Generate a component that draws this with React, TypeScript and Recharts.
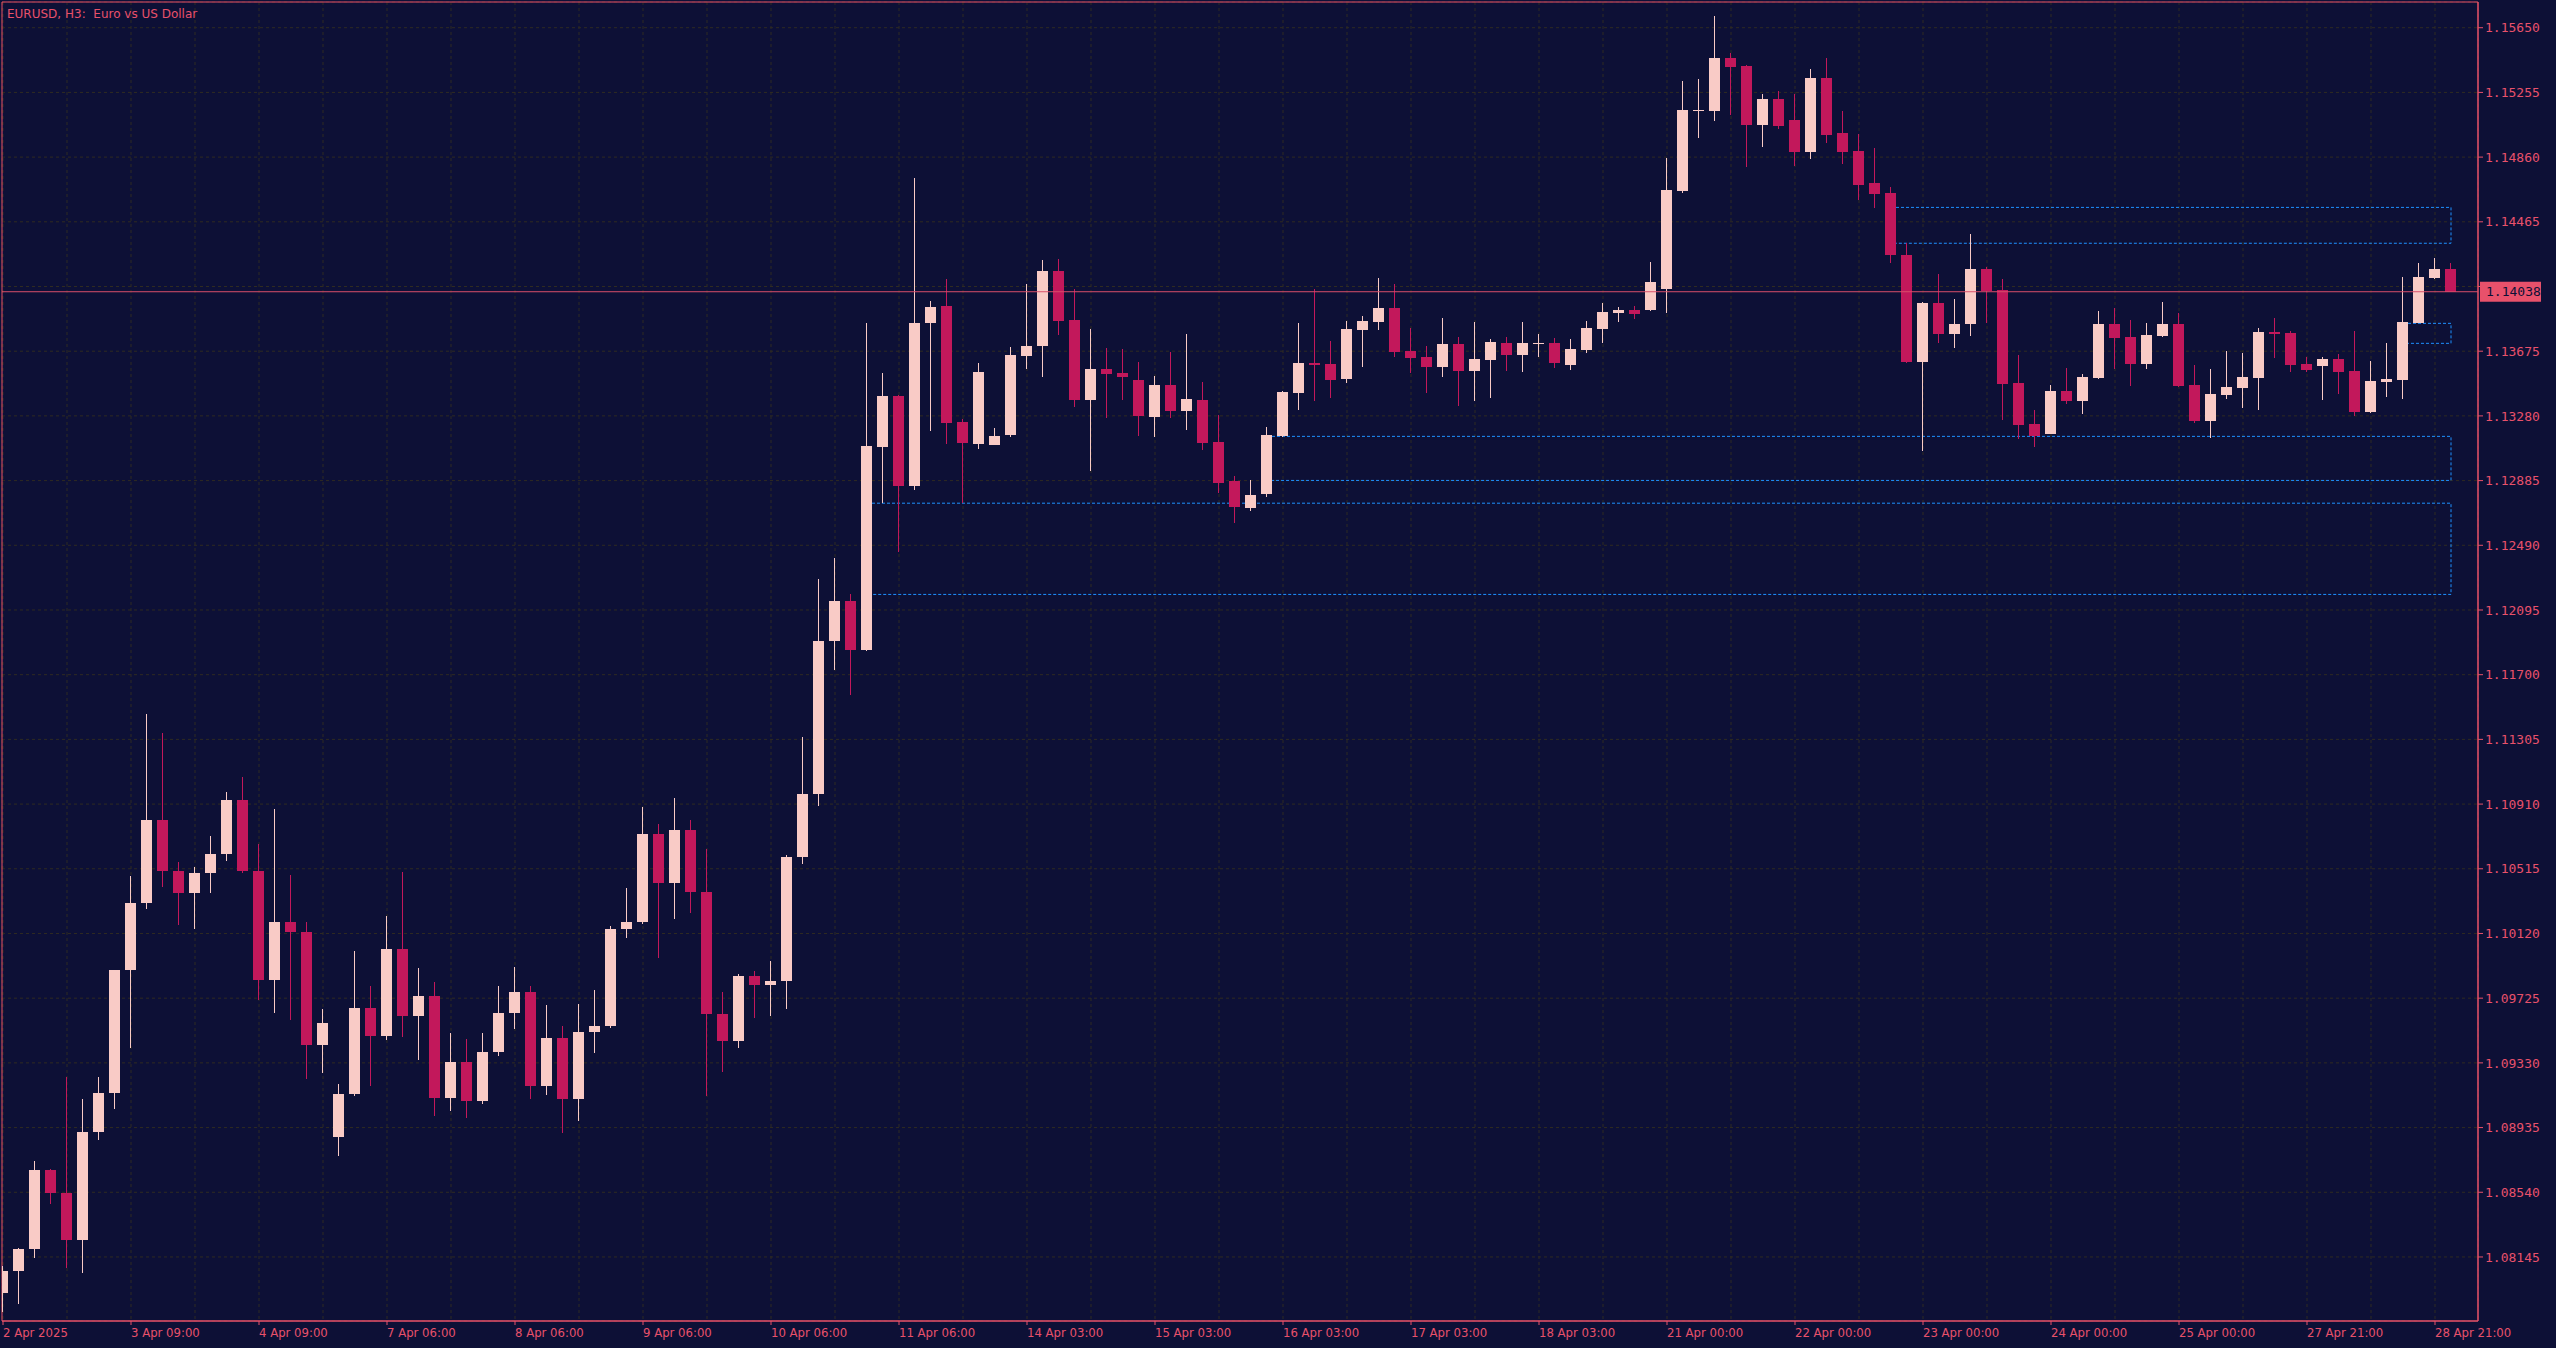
import React from 'react';
import {
  ComposedChart,
  Bar,
  XAxis,
  YAxis,
  CartesianGrid,
  ReferenceLine,
  ReferenceArea,
} from 'recharts';

const W = 2556;
const H = 1348;

const BG = '#0D1036';
const AXIS = '#E8516B';
const PRICE_LINE = '#D94F6A';
const BULL = '#F9CBC6';
const BEAR = '#C2185B';
const GRID = '#2F2B22';
const ZONE = '#1E90FF';

// EURUSD H3, one entry per bar (index 0 = 2 Apr 2025)
const opens = [
  1.07925, 1.0806, 1.08194, 1.08676, 1.08536, 1.08249, 1.08908, 1.09146, 1.09897, 1.10306,
  1.10813, 1.10502, 1.10367, 1.10489, 1.10605, 1.10935, 1.10502, 1.09836, 1.1019, 1.10129,
  1.09439, 1.08878, 1.0914, 1.09665, 1.09494, 1.10025, 1.09616, 1.09738, 1.09116, 1.09336,
  1.09097, 1.09397, 1.09635, 1.09763, 1.09189, 1.09482, 1.0911, 1.09519, 1.09555, 1.10148,
  1.1019, 1.10727, 1.10428, 1.10752, 1.10373, 1.09629, 1.09464, 1.09861, 1.09806, 1.0983,
  1.10587, 1.10972, 1.11906, 1.1215, 1.11851, 1.1309, 1.13401, 1.12852, 1.13847, 1.13951,
  1.13243, 1.13108, 1.13102, 1.13163, 1.13646, 1.13707, 1.14165, 1.13865, 1.13377, 1.13566,
  1.13542, 1.13499, 1.13273, 1.13469, 1.1331, 1.13377, 1.13121, 1.12883, 1.12718, 1.12803,
  1.13157, 1.1342, 1.13603, 1.13597, 1.13505, 1.13804, 1.13853, 1.13939, 1.13676, 1.1364,
  1.13578, 1.13719, 1.13554, 1.13621, 1.13725, 1.13652, 1.13719, 1.13725, 1.13591, 1.13682,
  1.1381, 1.13908, 1.13926, 1.13926, 1.14055, 1.14653, 1.15141, 1.15141, 1.15465, 1.15416,
  1.15056, 1.15215, 1.15086, 1.14891, 1.15343, 1.15007, 1.14897, 1.14702, 1.14641, 1.14262,
  1.13609, 1.13969, 1.1378, 1.13841, 1.14177, 1.14049, 1.13481, 1.13231, 1.13169, 1.13432,
  1.13371, 1.13511, 1.13841, 1.13762, 1.13597, 1.13768, 1.13841, 1.13469, 1.13249, 1.13408,
  1.1345, 1.13511, 1.13792, 1.13786, 1.13597, 1.13585, 1.13627, 1.13554, 1.13304, 1.13487,
  1.13499, 1.13847, 1.14122, 1.14177,
];

const highs = [
  1.0809, 1.08197, 1.08731, 1.08679, 1.09244, 1.0911, 1.09244, 1.09899, 1.10471, 1.1146,
  1.11344, 1.10557, 1.10526, 1.10715, 1.10984, 1.11075, 1.10666, 1.1088, 1.10477, 1.1019,
  1.09659, 1.09201, 1.10013, 1.098, 1.10227, 1.10495, 1.09909, 1.09824, 1.09513, 1.09476,
  1.09513, 1.098, 1.09916, 1.098, 1.09684, 1.09555, 1.0969, 1.09775, 1.10166, 1.10398,
  1.10892, 1.10789, 1.10947, 1.10813, 1.10636, 1.09763, 1.09873, 1.09891, 1.09952, 1.10599,
  1.1132, 1.12284, 1.12412, 1.12193, 1.13847, 1.13542, 1.13405, 1.14732, 1.13981, 1.14116,
  1.13261, 1.13603, 1.13206, 1.13701, 1.14085, 1.14232, 1.14238, 1.14055, 1.1381, 1.13694,
  1.13688, 1.13609, 1.13524, 1.1367, 1.1378, 1.13487, 1.13285, 1.12913, 1.12889, 1.13212,
  1.13432, 1.13847, 1.14055, 1.13737, 1.13859, 1.1389, 1.14122, 1.14085, 1.13817, 1.13707,
  1.13878, 1.13762, 1.13853, 1.13749, 1.13762, 1.13853, 1.1378, 1.13756, 1.13749, 1.13859,
  1.13969, 1.13945, 1.13951, 1.1422, 1.14854, 1.15325, 1.15337, 1.15721, 1.15495, 1.15422,
  1.15245, 1.15263, 1.15245, 1.15398, 1.15465, 1.15141, 1.15001, 1.14916, 1.14677, 1.14336,
  1.13975, 1.14146, 1.13994, 1.1439, 1.14189, 1.14116, 1.13652, 1.13316, 1.13469, 1.13572,
  1.13536, 1.1392, 1.13939, 1.13865, 1.13847, 1.13975, 1.13908, 1.13591, 1.13566, 1.13676,
  1.13664, 1.13817, 1.13878, 1.13798, 1.1364, 1.1364, 1.13658, 1.13798, 1.13615, 1.13725,
  1.14128, 1.14213, 1.14244, 1.14213,
];

const lows = [
  1.07809, 1.07858, 1.08139, 1.08469, 1.08078, 1.08047, 1.08859, 1.09049, 1.09421, 1.1027,
  1.10404, 1.10172, 1.10148, 1.10367, 1.10563, 1.10489, 1.09714, 1.09635, 1.09592, 1.09232,
  1.09268, 1.08762, 1.09128, 1.09189, 1.0947, 1.09488, 1.09348, 1.09006, 1.09036, 1.08994,
  1.09079, 1.09372, 1.09537, 1.0911, 1.09134, 1.08902, 1.08975, 1.0939, 1.09543, 1.10093,
  1.10178, 1.0997, 1.10209, 1.10245, 1.09128, 1.09274, 1.09421, 1.09604, 1.09616, 1.09659,
  1.10544, 1.10898, 1.11729, 1.11576, 1.11845, 1.12748, 1.12449, 1.12828, 1.13188, 1.13108,
  1.12748, 1.13078, 1.13102, 1.13151, 1.13566, 1.13517, 1.13774, 1.13334, 1.12944, 1.13267,
  1.13377, 1.13157, 1.13151, 1.13267, 1.13194, 1.13072, 1.12809, 1.12626, 1.12699, 1.12785,
  1.13151, 1.13316, 1.13371, 1.13389, 1.13481, 1.13578, 1.13804, 1.1364, 1.13542, 1.1342,
  1.13517, 1.1334, 1.13371, 1.13389, 1.13554, 1.13548, 1.1364, 1.13572, 1.1356, 1.13664,
  1.13725, 1.13853, 1.13872, 1.1392, 1.13908, 1.14641, 1.14977, 1.1508, 1.15117, 1.148,
  1.14922, 1.15032, 1.14806, 1.14848, 1.14946, 1.14818, 1.14598, 1.14549, 1.14213, 1.13603,
  1.13066, 1.13725, 1.13694, 1.13768, 1.13847, 1.13255, 1.13139, 1.1309, 1.13169, 1.13353,
  1.13292, 1.13505, 1.13566, 1.13463, 1.13566, 1.13762, 1.13456, 1.13237, 1.13145, 1.13383,
  1.13328, 1.13316, 1.13633, 1.13548, 1.13548, 1.13377, 1.13414, 1.13279, 1.13298, 1.13395,
  1.13383, 1.13847, 1.14116, 1.14038,
];

const closes = [
  1.0806, 1.08194, 1.08676, 1.08536, 1.08249, 1.08908, 1.09146, 1.09897, 1.10306, 1.10813,
  1.10502, 1.10367, 1.10489, 1.10605, 1.10935, 1.10502, 1.09836, 1.1019, 1.10129, 1.09439,
  1.09574, 1.0914, 1.09665, 1.09494, 1.10025, 1.09616, 1.09738, 1.09116, 1.09336, 1.09097,
  1.09397, 1.09635, 1.09763, 1.09189, 1.09482, 1.0911, 1.09519, 1.09555, 1.10148, 1.1019,
  1.10727, 1.10428, 1.10752, 1.10373, 1.09629, 1.09464, 1.09861, 1.09806, 1.0983, 1.10587,
  1.10972, 1.11906, 1.1215, 1.11851, 1.13096, 1.13401, 1.12852, 1.13847, 1.13945, 1.13237,
  1.13115, 1.13548, 1.13157, 1.13652, 1.13707, 1.14165, 1.13859, 1.13377, 1.13566, 1.13536,
  1.13517, 1.13279, 1.13469, 1.1331, 1.13383, 1.13115, 1.1287, 1.12724, 1.12797, 1.13163,
  1.13426, 1.13603, 1.13591, 1.13499, 1.1381, 1.13859, 1.13939, 1.1367, 1.13633, 1.13578,
  1.13719, 1.13554, 1.13627, 1.13731, 1.13652, 1.13725, 1.13725, 1.13603, 1.13688, 1.13817,
  1.13914, 1.13926, 1.13902, 1.14097, 1.14659, 1.15147, 1.15147, 1.15465, 1.1541, 1.15056,
  1.15215, 1.1505, 1.14891, 1.15343, 1.14995, 1.14891, 1.1469, 1.14635, 1.14262, 1.13609,
  1.13969, 1.1378, 1.13841, 1.14177, 1.14042, 1.13475, 1.13224, 1.13157, 1.13432, 1.13371,
  1.13517, 1.13841, 1.13756, 1.13597, 1.13774, 1.13841, 1.13463, 1.13249, 1.13414, 1.13456,
  1.13517, 1.13792, 1.1378, 1.13591, 1.1356, 1.13627, 1.13548, 1.13304, 1.13493, 1.13505,
  1.13853, 1.14128, 1.14177, 1.14038,
];

// time labels, one every 8 bars
const labelBars = [0, 8, 16, 24, 32, 40, 48, 56, 64, 72, 80, 88, 96, 104, 112, 120, 128, 136, 144, 152];
const labelTexts = [
  '2 Apr 2025', '3 Apr 09:00', '4 Apr 09:00', '7 Apr 06:00', '8 Apr 06:00', '9 Apr 06:00',
  '10 Apr 06:00', '11 Apr 06:00', '14 Apr 03:00', '15 Apr 03:00', '16 Apr 03:00', '17 Apr 03:00',
  '18 Apr 03:00', '21 Apr 00:00', '22 Apr 00:00', '23 Apr 00:00', '24 Apr 00:00', '25 Apr 00:00',
  '27 Apr 21:00', '28 Apr 21:00',
];
// vertical grid every 4 bars
const gridBars = Array.from({ length: 39 }, (_, k) => k * 4);

const priceTicks = [
  1.08145, 1.0854, 1.08935, 1.0933, 1.09725, 1.1012, 1.10515, 1.1091, 1.11305, 1.117,
  1.12095, 1.1249, 1.12885, 1.1328, 1.13675, 1.1407, 1.14465, 1.1486, 1.15255, 1.1565,
];

// dashed zones drawn on the chart: [fromBar, toBar, top, bottom]
const zones = [
  [118, 153, 1.14553, 1.14334],
  [150, 153, 1.13845, 1.13723],
  [79, 153, 1.13155, 1.12886],
  [54, 153, 1.12747, 1.1219],
];

const X_DOMAIN: [number, number] = [-0.0625, 154.6875];
const Y_DOMAIN: [number, number] = [1.07754, 1.15807];

const lastPrice = closes[closes.length - 1];

const data = opens.map((o, i) => ({ i, o, h: highs[i], l: lows[i], c: closes[i] }));

const Candle = (props: any) => {
  const { x, y, width, height, payload } = props;
  if (x == null || y == null || !payload) return null;
  const top = Math.min(y, y + height);
  const span = Math.abs(height);
  const { o, h, l, c } = payload;
  const k = h > l ? span / (h - l) : 0;
  const cx = Math.round(x + width / 2) - 1;
  const col = c >= o ? BULL : BEAR;
  const bTop = Math.round(top + (h - Math.max(o, c)) * k);
  const bBot = Math.round(top + (h - Math.min(o, c)) * k);
  const wTop = Math.round(top);
  const wBot = Math.round(top + span);
  return (
    <g>
      <rect x={cx} y={wTop} width={1} height={Math.max(1, wBot - wTop)} fill={col} />
      <rect x={cx - 5} y={bTop} width={11} height={Math.max(1, bBot - bTop)} fill={col} />
    </g>
  );
};

const TimeTick = (props: any) => {
  const { x, y, payload } = props;
  const idx = labelBars.indexOf(payload.value);
  if (idx < 0) return null;
  return (
    <g>
      <line x1={x} x2={x} y1={y - 7} y2={y - 3} stroke={AXIS} />
      <text
        x={x}
        y={y}
        dy="0.72em"
        textAnchor="start"
        fill={AXIS}
        fontSize={13}
        fontFamily="'DejaVu Sans Condensed', 'Liberation Sans Narrow', 'DejaVu Sans', sans-serif"
      >
        {labelTexts[idx]}
      </text>
    </g>
  );
};

// price labels; the one sitting under the current-price tag is covered by it
const PriceTick = (props: any) => {
  const { x, y, payload } = props;
  if (Math.abs(payload.value - lastPrice) < 0.0006) return null;
  return (
    <text
      x={x}
      y={y}
      dy="0.36em"
      textAnchor="start"
      fill={AXIS}
      fontSize={13}
      fontFamily="'DejaVu Sans Mono', monospace"
    >
      {payload.value.toFixed(5)}
    </text>
  );
};

const PriceTag = (props: any) => {
  const vb = props.viewBox;
  if (!vb) return null;
  const right = vb.x + vb.width;
  return (
    <g>
      <rect x={right + 2} y={vb.y - 10} width={61} height={20} fill={AXIS} />
      <text
        x={right + 8}
        y={vb.y}
        dy="0.36em"
        fill={BG}
        fontSize={13}
        fontFamily="'DejaVu Sans Mono', monospace"
      >
        {lastPrice.toFixed(5)}
      </text>
    </g>
  );
};

export default function App() {
  return (
    <div
      style={{
        position: 'fixed',
        left: 0,
        top: 0,
        width: W,
        height: H,
        background: BG,
        overflow: 'hidden',
      }}
    >
      <div
        style={{
          position: 'absolute',
          left: 7,
          top: 8,
          color: AXIS,
          fontFamily: "'DejaVu Sans', sans-serif",
          fontSize: 12,
          lineHeight: '12px',
          whiteSpace: 'pre',
          zIndex: 2,
        }}
      >
        {'EURUSD, H3:  Euro vs US Dollar'}
      </div>
      <ComposedChart width={W} height={H} data={data} margin={{ top: 2, right: 0, bottom: 0, left: 2 }}>
        <CartesianGrid stroke={GRID} strokeDasharray="3 3" />
        <XAxis
          dataKey="i"
          type="number"
          domain={X_DOMAIN}
          allowDataOverflow
          ticks={gridBars}
          interval={0}
          height={27}
          tickSize={4}
          tickMargin={3}
          tickLine={false}
          axisLine={{ stroke: AXIS }}
          tick={<TimeTick />}
        />
        <YAxis
          orientation="right"
          type="number"
          domain={Y_DOMAIN}
          allowDataOverflow
          ticks={priceTicks}
          interval={0}
          width={78}
          tickSize={5}
          tickMargin={2}
          axisLine={{ stroke: AXIS }}
          tickLine={{ stroke: AXIS }}
          tick={<PriceTick />}
        />
        <Bar
          dataKey={(d: any) => [d.l, d.h]}
          barSize={11}
          shape={(p: any) => <Candle {...p} />}
          isAnimationActive={false}
        />
        {zones.map((z, idx) => (
          <ReferenceArea
            key={idx}
            x1={z[0]}
            x2={z[1]}
            y1={z[3]}
            y2={z[2]}
            fill="none"
            stroke={ZONE}
            strokeDasharray="3 2"
            ifOverflow="visible"
          />
        ))}
        <ReferenceLine y={lastPrice} stroke={PRICE_LINE} ifOverflow="visible" label={(p: any) => <PriceTag {...p} />} />
        <ReferenceArea
          x1={X_DOMAIN[0]}
          x2={X_DOMAIN[1]}
          y1={Y_DOMAIN[0]}
          y2={Y_DOMAIN[1]}
          fill="none"
          stroke={AXIS}
          ifOverflow="visible"
        />
      </ComposedChart>
    </div>
  );
}
